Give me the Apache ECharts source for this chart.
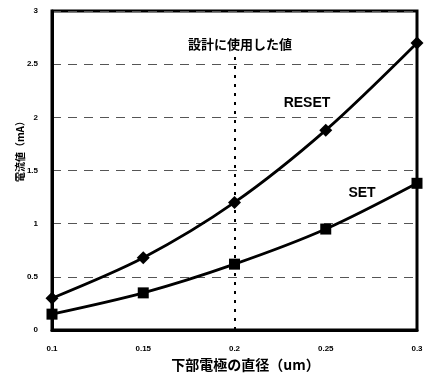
<!DOCTYPE html>
<html>
<head>
<meta charset="utf-8">
<script src="https://cdn.jsdelivr.net/npm/echarts@6/dist/echarts.min.js"></script>
<style>
html,body{margin:0;padding:0;background:#fff;}
#chart{width:428px;height:377px;}
</style>
</head>
<body>
<div id="chart"></div>
<script>
// 下部電極の直径 (um)
const diameters = [0.1, 0.15, 0.2, 0.25, 0.3];
// 電流値 (mA)
const resetCurrent = [0.3, 0.68, 1.2, 1.88, 2.7];
const setCurrent = [0.15, 0.35, 0.62, 0.95, 1.38];
const xTickLabels = ['0.1', '0.15', '0.2', '0.25', '0.3'];
const yTickLabels = ['0', '0.5', '1', '1.5', '2', '2.5', '3'];
const designValue = 0.2;

const font = '"Liberation Sans", Arial, sans-serif';
const cjk = '"Noto Sans CJK JP", sans-serif';

const pair = (xs, ys) => xs.map((x, i) => [x, ys[i]]);

const chart = echarts.init(document.getElementById('chart'));
chart.setOption({
  animation: false,
  backgroundColor: '#fff',
  grid: {
    left: 52, right: 11, top: 11, bottom: 46,
    show: true, borderColor: '#000', borderWidth: 3
  },
  xAxis: {
    type: 'value', min: 0.1, max: 0.3, interval: 0.05,
    name: '下部電極の直径（um）', nameLocation: 'middle', nameGap: 26,
    nameTextStyle: { fontFamily: cjk, fontWeight: 'bold', fontSize: 14, color: '#000', padding: [0, 0, 0, 22] },
    axisLine: { show: true, lineStyle: { color: '#000', width: 3 } },
    axisTick: { show: false },
    splitLine: { show: false },
    axisLabel: {
      margin: 15, fontFamily: font, fontWeight: 'bold', fontSize: 8, color: '#000',
      formatter: v => xTickLabels[Math.round((v - 0.1) / 0.05)] ?? ''
    }
  },
  yAxis: {
    type: 'value', min: 0, max: 3, interval: 0.5,
    axisLine: { show: true, lineStyle: { color: '#000', width: 3 } },
    axisTick: { show: false },
    splitLine: { show: true, lineStyle: { color: '#555', width: 1, type: [9, 7] } },
    axisLabel: {
      margin: 14, fontFamily: font, fontWeight: 'bold', fontSize: 8, color: '#000',
      formatter: v => yTickLabels[Math.round(v / 0.5)] ?? ''
    }
  },
  series: [
    {
      name: 'RESET', type: 'line', smooth: 0.3,
      data: pair(diameters, resetCurrent),
      symbol: 'diamond', symbolSize: 13,
      lineStyle: { color: '#000', width: 2.8 },
      itemStyle: { color: '#000' },
      markLine: {
        silent: true, symbol: 'none',
        lineStyle: { color: '#000', width: 2, type: [3, 6] },
        label: { show: false },
        data: [[{ coord: [designValue, 0] }, { coord: [designValue, 2.6] }]]
      }
    },
    {
      name: 'SET', type: 'line', smooth: 0.3,
      data: pair(diameters, setCurrent),
      symbol: 'rect', symbolSize: 11,
      lineStyle: { color: '#000', width: 2.8 },
      itemStyle: { color: '#000' }
    }
  ],
  graphic: [
    { type: 'text', x: 20, y: 149, rotation: Math.PI / 2,
      style: { text: '電流値（mA）', font: 'bold 10px "Noto Sans CJK JP", sans-serif', fill: '#000',
               align: 'center', verticalAlign: 'middle' } },
    { type: 'text', x: 240, y: 44,
      style: { text: '設計に使用した値', font: 'bold 13px "Noto Sans CJK JP", sans-serif', fill: '#000',
               align: 'center', verticalAlign: 'middle' } },
    { type: 'text', x: 307, y: 103,
      style: { text: 'RESET', font: 'bold 14px "Liberation Sans", Arial, sans-serif', fill: '#000',
               align: 'center', verticalAlign: 'middle' } },
    { type: 'text', x: 362, y: 193,
      style: { text: 'SET', font: 'bold 14px "Liberation Sans", Arial, sans-serif', fill: '#000',
               align: 'center', verticalAlign: 'middle' } }
  ]
});
</script>
</body>
</html>
